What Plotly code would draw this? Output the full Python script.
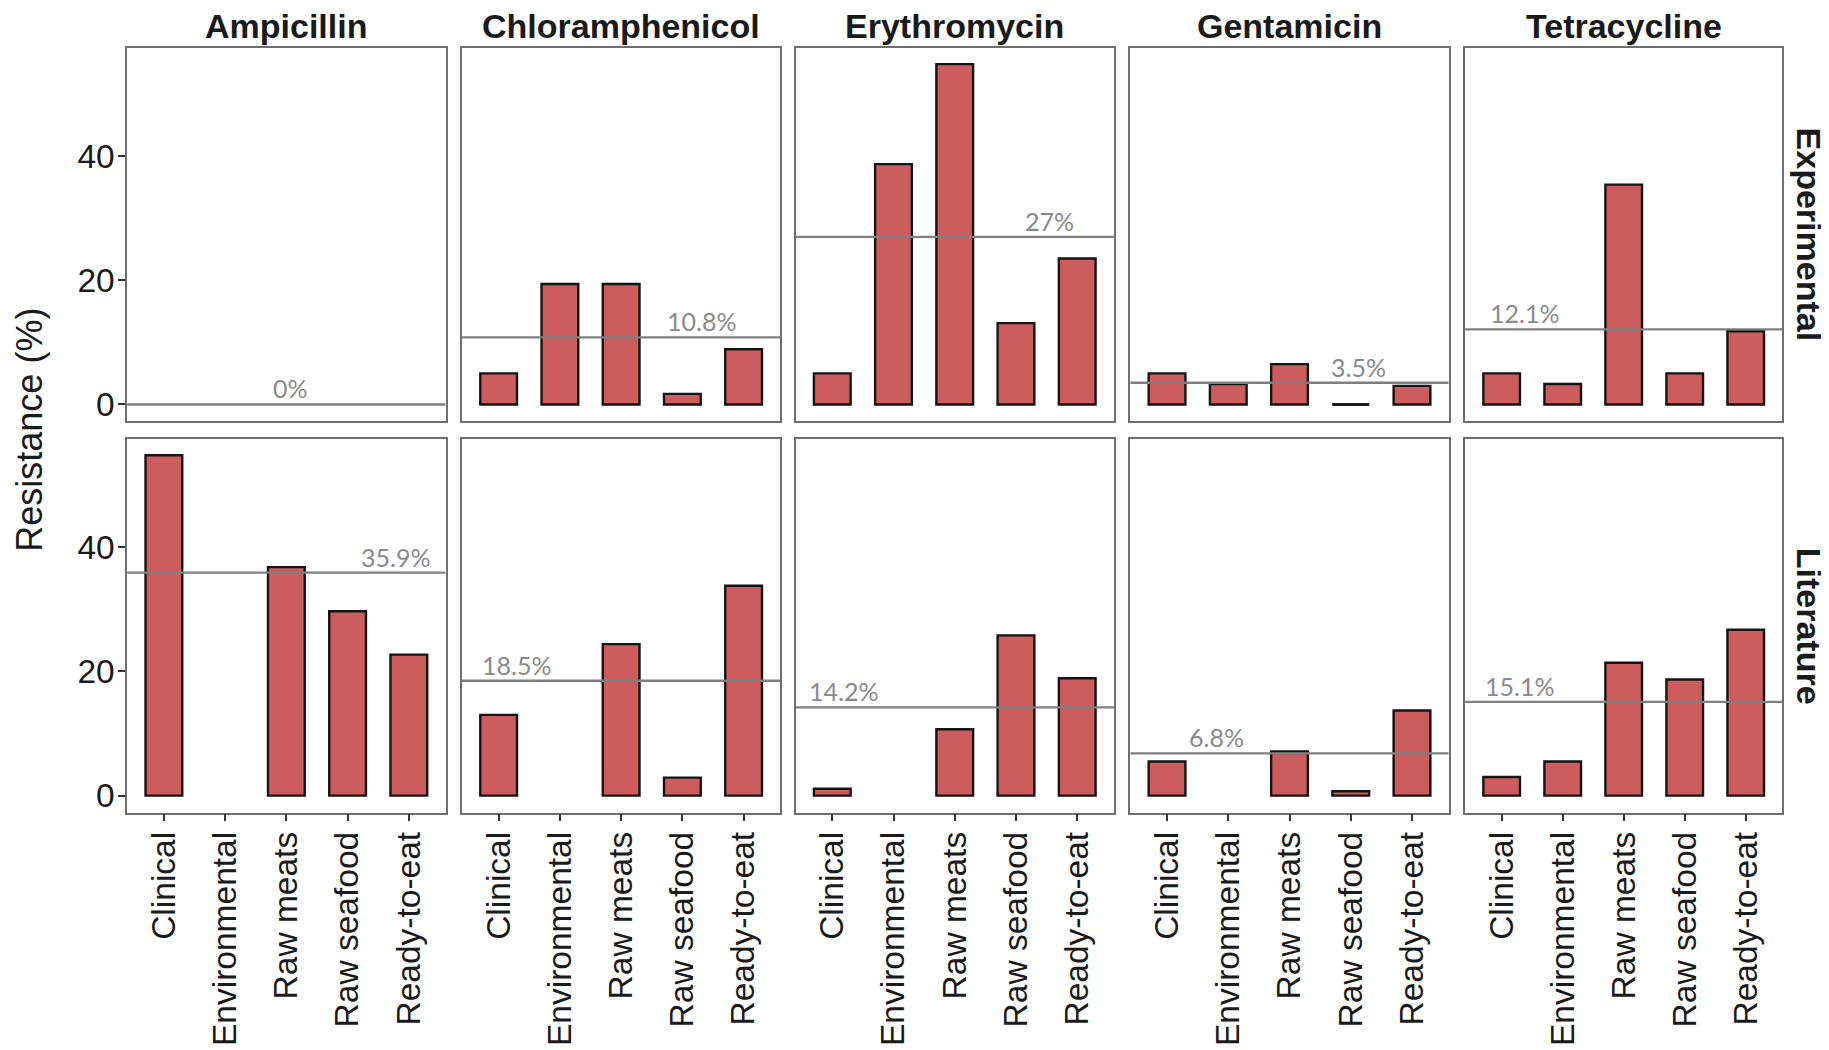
import plotly.graph_objects as go
from plotly.subplots import make_subplots

# ---------------- data ----------------
categories = ["Clinical", "Environmental", "Raw meats", "Raw seafood", "Ready-to-eat"]
antibiotics = ["Ampicillin", "Chloramphenicol", "Erythromycin", "Gentamicin", "Tetracycline"]
sources = ["Experimental", "Literature"]

exp_ampicillin = [None, None, None, None, None]
exp_chloramphenicol = [5.0, 19.4, 19.4, 1.7, 8.9]
exp_erythromycin = [5.0, 38.7, 54.8, 13.1, 23.5]
exp_gentamicin = [5.0, 3.3, 6.5, 0.0, 3.0]
exp_tetracycline = [5.0, 3.3, 35.4, 5.0, 11.8]

lit_ampicillin = [54.8, None, 36.8, 29.7, 22.7]
lit_chloramphenicol = [13.0, None, 24.4, 2.9, 33.8]
lit_erythromycin = [1.1, None, 10.7, 25.8, 18.9]
lit_gentamicin = [5.5, None, 7.1, 0.7, 13.7]
lit_tetracycline = [3.0, 5.5, 21.4, 18.7, 26.7]

exp_means = [0, 10.8, 27, 3.5, 12.1]
lit_means = [35.9, 18.5, 14.2, 6.8, 15.1]

y_ticks = [0, 20, 40]

# label x positions (category units) for mean labels
exp_label_x = [3.07, 4.32, 4.55, 4.13, 1.37]
lit_label_x = [4.79, 1.29, 1.19, 1.81, 1.29]

data = [
    [exp_ampicillin, exp_chloramphenicol, exp_erythromycin, exp_gentamicin, exp_tetracycline],
    [lit_ampicillin, lit_chloramphenicol, lit_erythromycin, lit_gentamicin, lit_tetracycline],
]
means = [exp_means, lit_means]
label_x = [exp_label_x, lit_label_x]

# ---------------- layout geometry ----------------
# page body has an 8px margin, so the figure is sized to fit inside the window
PAGE_W, PAGE_H = 1829, 1050
OFF = 8
W, H = PAGE_W - OFF, PAGE_H - OFF
S = PAGE_W / 1568.0          # reference measurements were taken at 1568 px width


def fx(d):
    return (d * S - OFF) / W


def fy(d):
    return 1 - (d * S - OFF) / H


col_px = [(109, 382), (396, 669), (682, 955), (969, 1242), (1256, 1528)]
row_px = [(41, 362), (377, 698)]

BAR_FILL = "#CD5C5C"
BAR_EDGE = "#141414"
MEAN_COL = "#7f7f7f"
FRAME = "#6e6e6e"
TXT = "#1a1a1a"

y_max = 54.7
y_range = [-0.05 * y_max, 1.05 * y_max]
x_range = [0.4, 5.6]

fig = make_subplots(rows=2, cols=5)

annotations = []
for r in range(2):
    for c in range(5):
        n = r * 5 + c + 1
        xa = "x" if n == 1 else f"x{n}"
        ya = "y" if n == 1 else f"y{n}"
        vals = data[r][c]
        xs = [i + 1 for i, v in enumerate(vals) if v is not None]
        ys = [v for v in vals if v is not None]
        fig.add_trace(
            go.Bar(x=xs, y=ys, width=0.6,
                   marker=dict(color=BAR_FILL, line=dict(color=BAR_EDGE, width=2.4)),
                   hoverinfo="x+y"),
            row=r + 1, col=c + 1)
        # zero-height bars are drawn as a flat outline
        for x, y in zip(xs, ys):
            if y == 0:
                fig.add_trace(
                    go.Scatter(x=[x - 0.3, x + 0.3], y=[y, y], mode="lines",
                               line=dict(color=BAR_EDGE, width=2.6), hoverinfo="skip"),
                    row=r + 1, col=c + 1)
        m = means[r][c]
        fig.add_trace(
            go.Scatter(x=x_range, y=[m, m], mode="lines",
                       line=dict(color=MEAN_COL, width=2.3), hoverinfo="skip"),
            row=r + 1, col=c + 1)
        annotations.append(dict(
            x=label_x[r][c], y=m, xref=xa, yref=ya, text=f"{m:g}%",
            showarrow=False, yanchor="bottom", xanchor="center", yshift=-1,
            font=dict(family="Lato", size=25, color="#8a8a8a")))

        x0, x1 = col_px[c]
        yt, yb = row_px[r]
        xd = [fx(x0), fx(x1)]
        yd = [fy(yb), fy(yt)]
        fig.layout[("xaxis" if n == 1 else f"xaxis{n}")].update(
            domain=xd, range=x_range, tickmode="array",
            tickvals=[1, 2, 3, 4, 5], ticktext=categories,
            showticklabels=(r == 1), ticks="outside" if r == 1 else "",
            ticklen=7, tickwidth=1.8, tickcolor="#333333", tickangle=-90,
            ticklabelstandoff=-3,
            tickfont=dict(family="Liberation Sans, Arial", size=33.5, color=TXT),
            showline=True, mirror=True, linecolor=FRAME, linewidth=1.6,
            showgrid=False, zeroline=False, fixedrange=True)
        fig.layout[("yaxis" if n == 1 else f"yaxis{n}")].update(
            domain=yd, range=y_range, tickmode="array", tickvals=y_ticks,
            showticklabels=(c == 0), ticks="outside" if c == 0 else "",
            ticklen=7, tickwidth=1.8, tickcolor="#333333",
            ticklabelstandoff=-3,
            tickfont=dict(family="Liberation Sans, Arial", size=33.5, color=TXT),
            showline=True, mirror=True, linecolor=FRAME, linewidth=1.6,
            showgrid=False, zeroline=False, fixedrange=True)

# facet column titles (anchored to the top edge so they are not clipped)
for c, name in enumerate(antibiotics):
    x0, x1 = col_px[c]
    annotations.append(dict(
        x=(fx(x0) + fx(x1)) / 2, y=1.0, xref="paper", yref="paper",
        text=f"<b>{name}</b>", showarrow=False, xanchor="center", yanchor="top",
        borderpad=0, yshift=2,
        font=dict(family="Liberation Sans, Arial", size=34, color=TXT)))

# facet row labels
for r, name in enumerate(sources):
    yt, yb = row_px[r]
    annotations.append(dict(
        x=1.0, y=(fy(yt) + fy(yb)) / 2, xref="paper", yref="paper",
        text=f"<b>{name}</b>", showarrow=False, textangle=90,
        xanchor="right", yanchor="middle", borderpad=0,
        font=dict(family="Liberation Sans, Arial", size=34, color=TXT)))

# y-axis title
annotations.append(dict(
    x=0.0, y=(fy(row_px[0][0]) + fy(row_px[1][1])) / 2, xref="paper", yref="paper",
    text="Resistance (%)", showarrow=False, textangle=-90,
    xanchor="left", yanchor="middle", borderpad=0,
    font=dict(family="Liberation Sans, Arial", size=36, color=TXT)))

fig.update_layout(
    width=W, height=H, margin=dict(l=0, r=0, t=0, b=0),
    plot_bgcolor="white", paper_bgcolor="white", showlegend=False,
    annotations=annotations, barmode="overlay")

fig.write_html("out.html")
